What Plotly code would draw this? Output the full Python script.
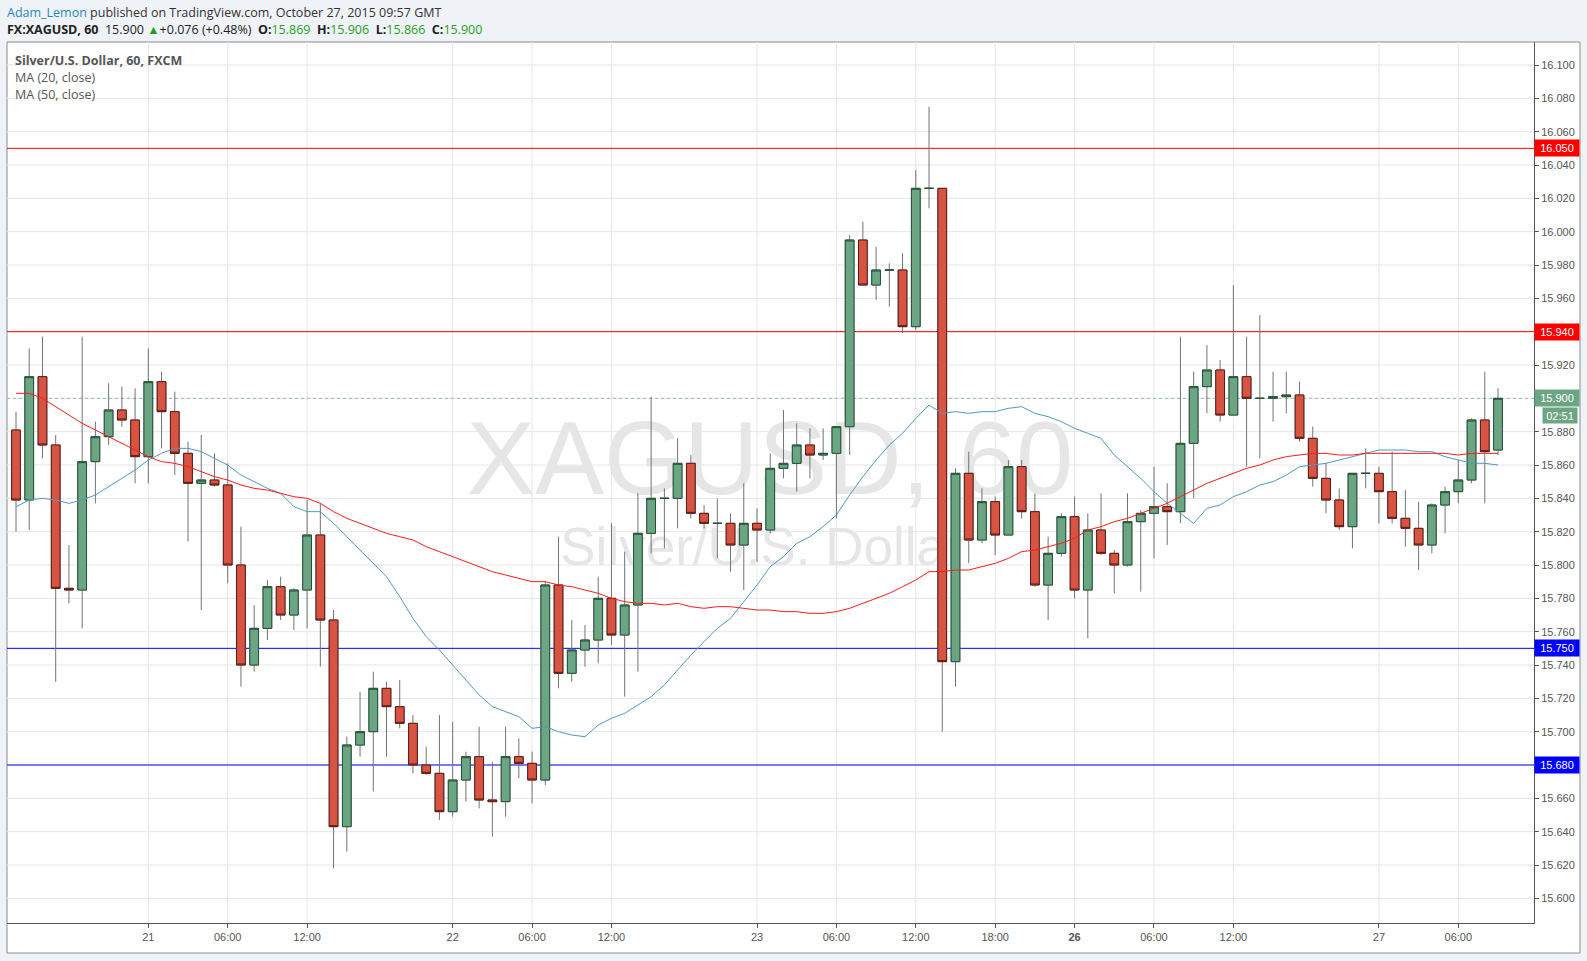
import plotly.graph_objects as go

# ---------------- data ----------------
open_ = [15.881, 15.839, 15.913, 15.872, 15.786, 15.785, 15.862, 15.877, 15.893, 15.887,
         15.865, 15.910, 15.892, 15.867, 15.849, 15.851, 15.848, 15.800, 15.740, 15.762,
         15.787, 15.770, 15.785, 15.818, 15.767, 15.643, 15.692, 15.700, 15.726, 15.715,
         15.705, 15.680, 15.675, 15.652, 15.671, 15.685, 15.659, 15.658, 15.685, 15.681,
         15.671, 15.788, 15.735, 15.749, 15.755, 15.780, 15.758, 15.776, 15.819, 15.840,
         15.840, 15.861, 15.831, 15.825, 15.825, 15.812, 15.825, 15.821, 15.858, 15.861,
         15.872, 15.866, 15.867, 15.883, 15.995, 15.968, 15.977, 15.977, 15.943, 16.026,
         16.026, 15.742, 15.855, 15.815, 15.838, 15.818, 15.859, 15.832, 15.788, 15.807,
         15.829, 15.785, 15.821, 15.807, 15.800, 15.826, 15.831, 15.835, 15.832, 15.873,
         15.907, 15.917, 15.890, 15.913, 15.900, 15.900, 15.901, 15.902, 15.876, 15.852,
         15.839, 15.823, 15.855, 15.855, 15.844, 15.828, 15.822, 15.812, 15.836, 15.844,
         15.851, 15.887, 15.869]
high = [15.892, 15.930, 15.937, 15.878, 15.812, 15.937, 15.886, 15.909, 15.907, 15.906,
        15.930, 15.916, 15.904, 15.874, 15.878, 15.867, 15.861, 15.823, 15.776, 15.791,
        15.793, 15.786, 15.839, 15.837, 15.773, 15.697, 15.724, 15.736, 15.730, 15.731,
        15.710, 15.691, 15.710, 15.706, 15.688, 15.703, 15.682, 15.703, 15.696, 15.688,
        15.790, 15.817, 15.767, 15.764, 15.793, 15.825, 15.808, 15.843, 15.901, 15.846,
        15.876, 15.866, 15.836, 15.840, 15.831, 15.849, 15.834, 15.867, 15.893, 15.885,
        15.882, 15.882, 15.883, 15.998, 16.006, 15.991, 15.981, 15.987, 16.037, 16.075,
        16.026, 15.858, 15.868, 15.846, 15.841, 15.863, 15.863, 15.843, 15.817, 15.831,
        15.841, 15.831, 15.843, 15.809, 15.843, 15.833, 15.859, 15.849, 15.937, 15.916,
        15.932, 15.923, 15.968, 15.937, 15.950, 15.916, 15.916, 15.910, 15.883, 15.861,
        15.846, 15.855, 15.870, 15.859, 15.868, 15.845, 15.838, 15.837, 15.847, 15.863,
        15.888, 15.916, 15.906]
low = [15.820, 15.821, 15.864, 15.730, 15.777, 15.762, 15.837, 15.872, 15.883, 15.849,
       15.849, 15.870, 15.854, 15.814, 15.773, 15.847, 15.789, 15.727, 15.736, 15.755,
       15.767, 15.761, 15.762, 15.739, 15.618, 15.628, 15.685, 15.664, 15.685, 15.702,
       15.675, 15.674, 15.647, 15.649, 15.658, 15.654, 15.637, 15.649, 15.672, 15.657,
       15.668, 15.726, 15.730, 15.739, 15.741, 15.752, 15.721, 15.736, 15.807, 15.810,
       15.822, 15.828, 15.822, 15.804, 15.796, 15.785, 15.802, 15.819, 15.852, 15.844,
       15.852, 15.863, 15.828, 15.866, 15.968, 15.959, 15.955, 15.939, 15.941, 16.014,
       15.700, 15.727, 15.801, 15.813, 15.806, 15.818, 15.828, 15.787, 15.767, 15.805,
       15.780, 15.756, 15.806, 15.783, 15.799, 15.784, 15.804, 15.812, 15.825, 15.840,
       15.891, 15.886, 15.890, 15.859, 15.864, 15.886, 15.891, 15.874, 15.847, 15.831,
       15.821, 15.810, 15.846, 15.825, 15.825, 15.811, 15.797, 15.807, 15.819, 15.837,
       15.849, 15.837, 15.866]
close = [15.839, 15.913, 15.872, 15.786, 15.785, 15.862, 15.877, 15.893, 15.887, 15.865,
         15.910, 15.892, 15.867, 15.849, 15.851, 15.848, 15.800, 15.740, 15.762, 15.787,
         15.770, 15.785, 15.818, 15.767, 15.643, 15.692, 15.700, 15.726, 15.715, 15.705,
         15.680, 15.675, 15.652, 15.671, 15.685, 15.659, 15.658, 15.685, 15.681, 15.671,
         15.788, 15.735, 15.749, 15.755, 15.780, 15.758, 15.776, 15.819, 15.840, 15.840,
         15.861, 15.831, 15.825, 15.825, 15.812, 15.825, 15.821, 15.858, 15.861, 15.872,
         15.866, 15.867, 15.883, 15.995, 15.968, 15.977, 15.977, 15.943, 16.026, 16.026,
         15.742, 15.855, 15.815, 15.838, 15.818, 15.859, 15.832, 15.788, 15.807, 15.829,
         15.785, 15.821, 15.807, 15.800, 15.826, 15.831, 15.835, 15.832, 15.873, 15.907,
         15.917, 15.890, 15.913, 15.900, 15.900, 15.901, 15.902, 15.876, 15.852, 15.839,
         15.823, 15.855, 15.855, 15.844, 15.828, 15.822, 15.812, 15.836, 15.844, 15.851,
         15.887, 15.868, 15.900]

ma20 = [15.835, 15.839, 15.840, 15.839, 15.837, 15.839, 15.842, 15.847, 15.852, 15.857,
        15.863, 15.867, 15.870, 15.870, 15.868, 15.864, 15.860, 15.854, 15.850, 15.846,
        15.843, 15.835, 15.832, 15.832, 15.825, 15.817, 15.809, 15.801, 15.793, 15.781,
        15.768, 15.757, 15.749, 15.740, 15.731, 15.722, 15.715, 15.712, 15.709, 15.702,
        15.703, 15.700, 15.698, 15.697, 15.704, 15.708, 15.711, 15.716, 15.721, 15.728,
        15.737, 15.746, 15.754, 15.762, 15.768, 15.778, 15.788, 15.799, 15.805, 15.813,
        15.817, 15.823, 15.830, 15.842, 15.853, 15.863, 15.872, 15.879, 15.888, 15.896,
        15.891, 15.892, 15.891, 15.892, 15.892, 15.894, 15.895, 15.891, 15.889, 15.886,
        15.882, 15.879, 15.876, 15.866, 15.859, 15.852, 15.844, 15.837, 15.831, 15.825,
        15.834, 15.836, 15.841, 15.844, 15.848, 15.850, 15.854, 15.859, 15.860, 15.861,
        15.863, 15.865, 15.867, 15.869, 15.869, 15.869, 15.868, 15.868, 15.865, 15.863,
        15.861, 15.861, 15.860]
ma50 = [15.903, 15.903, 15.900, 15.895, 15.890, 15.885, 15.881, 15.877, 15.873, 15.869,
        15.865, 15.862, 15.861, 15.859, 15.856, 15.853, 15.851, 15.848, 15.846, 15.845,
        15.843, 15.841, 15.840, 15.837, 15.832, 15.828, 15.825, 15.822, 15.819, 15.817,
        15.815, 15.811, 15.808, 15.805, 15.802, 15.799, 15.796, 15.794, 15.792, 15.790,
        15.790, 15.788, 15.787, 15.785, 15.783, 15.780, 15.778, 15.777, 15.777, 15.776,
        15.777, 15.775, 15.774, 15.775, 15.775, 15.774, 15.773, 15.773, 15.772, 15.772,
        15.771, 15.771, 15.772, 15.774, 15.777, 15.780, 15.783, 15.787, 15.791, 15.796,
        15.796, 15.797, 15.797, 15.799, 15.801, 15.804, 15.808, 15.809, 15.811, 15.813,
        15.816, 15.821, 15.823, 15.826, 15.828, 15.831, 15.834, 15.837, 15.841, 15.845,
        15.849, 15.852, 15.855, 15.858, 15.860, 15.863, 15.865, 15.866, 15.867, 15.867,
        15.866, 15.866, 15.867, 15.867, 15.867, 15.867, 15.867, 15.867, 15.867, 15.866,
        15.867, 15.867, 15.867]

# x-axis labels (bar index -> label); hourly bars from Oct 20 13:00 GMT
x_tick_index = [10, 16, 22, 33, 39, 45, 56, 62, 68, 74, 80, 86, 92, 103, 109]
x_tick_text = ["21", "06:00", "12:00", "22", "06:00", "12:00", "23", "06:00", "12:00",
               "18:00", "<b>26</b>", "06:00", "12:00", "27", "06:00"]
y_tick_values = [15.600, 15.620, 15.640, 15.660, 15.680, 15.700, 15.720, 15.740, 15.760,
                 15.780, 15.800, 15.820, 15.840, 15.860, 15.880, 15.900, 15.920, 15.940,
                 15.960, 15.980, 16.000, 16.020, 16.040, 16.060, 16.080, 16.100]

red_levels = [16.050, 15.940]
blue_levels = [15.750, 15.680]
last_price = 15.900
countdown = "02:51"

# ---------------- figure ----------------
W, H = 1587, 961
L, R, T, B = 7, 53, 42, 38
pw, ph = W - L - R, H - T - B


def px_x(px):
    return (px - L) / pw


def px_y(py):
    return (H - B - py) / ph


idx = list(range(len(close)))
up = [i for i in idx if close[i] >= open_[i]]
dn = [i for i in idx if close[i] < open_[i]]

GREEN_FILL, GREEN_LINE = "#6ba583", "#225437"
RED_FILL, RED_LINE = "#d75442", "#5b1a13"
WICK = "#737375"
GRID = "#e6e6e6"
AXIS_FONT = "Liberation Sans, Arial, sans-serif"
TXT = "#555555"

fig = go.Figure()

# wicks (full range, grey)
fig.add_trace(go.Candlestick(
    x=idx, open=open_, high=high, low=low, close=close,
    increasing=dict(line=dict(color=WICK, width=1), fillcolor=WICK),
    decreasing=dict(line=dict(color=WICK, width=1), fillcolor=WICK),
    whiskerwidth=0, hoverinfo="skip", showlegend=False))


def bodies(ids, fill, line):
    o = [open_[i] for i in ids]
    c = [close[i] for i in ids]
    return go.Candlestick(
        x=ids, open=o, close=c,
        high=[max(a, b) for a, b in zip(o, c)],
        low=[min(a, b) for a, b in zip(o, c)],
        increasing=dict(line=dict(color=line, width=1), fillcolor=fill),
        decreasing=dict(line=dict(color=line, width=1), fillcolor=fill),
        whiskerwidth=0, hoverinfo="skip", showlegend=False)


fig.add_trace(bodies(up, GREEN_FILL, GREEN_LINE))
fig.add_trace(bodies(dn, RED_FILL, RED_LINE))

fig.add_trace(go.Scatter(x=idx, y=ma20, mode="lines",
                         line=dict(color="#4f97c4", width=1), showlegend=False,
                         hoverinfo="skip"))
fig.add_trace(go.Scatter(x=idx, y=ma50, mode="lines",
                         line=dict(color="#ff1a1a", width=1), showlegend=False,
                         hoverinfo="skip"))

shapes = []
# white chart frame
shapes.append(dict(type="rect", xref="paper", yref="paper",
                   x0=0, x1=px_x(1580), y0=px_y(953), y1=1,
                   fillcolor="white", line=dict(color="#8c8c8c", width=1),
                   layer="below"))
# watermark
shapes.append(dict(type="rect", xref="paper", yref="paper",
                   x0=px_x(420), x1=px_x(1120), y0=px_y(492), y1=px_y(404),
                   line=dict(width=0), fillcolor="rgba(0,0,0,0)", layer="below",
                   label=dict(text="XAGUSD, 60", textposition="middle center",
                              font=dict(size=103, color="#e6e6e6",
                                        family=AXIS_FONT))))
shapes.append(dict(type="rect", xref="paper", yref="paper",
                   x0=px_x(512), x1=px_x(1012), y0=px_y(563), y1=px_y(519),
                   line=dict(width=0), fillcolor="rgba(0,0,0,0)", layer="below",
                   label=dict(text="Silver/U.S. Dollar", textposition="middle center",
                              font=dict(size=53, color="#e6e6e6",
                                        family=AXIS_FONT))))
# grid (drawn as shapes so the level lines can sit on top of it, under the candles)
for v in y_tick_values:
    shapes.append(dict(type="line", xref="paper", yref="y", x0=0, x1=1, y0=v, y1=v,
                       line=dict(color=GRID, width=1), layer="below"))
for v in x_tick_index:
    shapes.append(dict(type="line", xref="x", yref="paper", x0=v, x1=v, y0=0, y1=1,
                       line=dict(color=GRID, width=1), layer="below"))
for lv in red_levels:
    shapes.append(dict(type="line", xref="paper", yref="y", x0=0, x1=1, y0=lv, y1=lv,
                       line=dict(color="#ff0000", width=1), layer="below"))
for lv in blue_levels:
    shapes.append(dict(type="line", xref="paper", yref="y", x0=0, x1=1, y0=lv, y1=lv,
                       line=dict(color="#0000ff", width=1), layer="below"))
shapes.append(dict(type="line", xref="paper", yref="y", x0=0, x1=1,
                   y0=last_price, y1=last_price,
                   line=dict(color="#8fc0a2", width=1, dash="dot"), layer="below"))

annotations = []


def price_tag(value, color):
    annotations.append(dict(
        xref="paper", yref="y", x=1, y=value, xanchor="left", yanchor="middle",
        text=f"{value:.3f}", showarrow=False, bgcolor=color, width=42, height=14,
        borderpad=1, align="center",
        font=dict(family=AXIS_FONT, size=11, color="white")))


for lv in red_levels:
    price_tag(lv, "#ff0000")
for lv in blue_levels:
    price_tag(lv, "#0000ff")
price_tag(last_price, GREEN_FILL)
annotations.append(dict(
    xref="paper", yref="y", x=px_x(1578), y=last_price, yshift=-17,
    xanchor="right", yanchor="middle", text=countdown, showarrow=False,
    bgcolor=GREEN_FILL, width=32, height=13, borderpad=1, align="center",
    font=dict(family=AXIS_FONT, size=11, color="white")))

HEAD_FONT = "Open Sans, Noto Sans, sans-serif"
GRN = "#1fa31f"
annotations.append(dict(
    xref="paper", yref="paper", x=px_x(5), y=px_y(12), xanchor="left", yanchor="middle",
    showarrow=False, align="left",
    text="<span style='color:#1f87c9'>Adam_Lemon</span> published on TradingView.com, "
         "October 27, 2015 09:57 GMT",
    font=dict(family=HEAD_FONT, size=12.5, color="#333333")))
annotations.append(dict(
    xref="paper", yref="paper", x=px_x(5), y=px_y(29), xanchor="left", yanchor="middle",
    showarrow=False, align="left",
    text=(f"<b>FX:XAGUSD, 60</b>  15.900 <span style='color:{GRN}'>▲</span>+0.076 (+0.48%)  "
          f"<b>O:</b><span style='color:{GRN}'>15.869</span>  "
          f"<b>H:</b><span style='color:{GRN}'>15.906</span>  "
          f"<b>L:</b><span style='color:{GRN}'>15.866</span>  "
          f"<b>C:</b><span style='color:{GRN}'>15.900</span>"),
    font=dict(family=HEAD_FONT, size=12.5, color="#222222")))

legend_lines = ["<b>Silver/U.S. Dollar, 60, FXCM</b>", "MA (20, close)", "MA (50, close)"]
for k, t in enumerate(legend_lines):
    annotations.append(dict(
        xref="paper", yref="paper", x=px_x(13), y=px_y(61 + 16.5 * k),
        xanchor="left", yanchor="middle", showarrow=False, align="left", text=t,
        font=dict(family=HEAD_FONT, size=12.5, color=TXT)))

fig.update_layout(
    width=W, height=H,
    margin=dict(l=L, r=R, t=T, b=B, pad=0),
    paper_bgcolor="#eff2f6",
    plot_bgcolor="rgba(0,0,0,0)",
    boxgap=0.34, boxgroupgap=0,
    showlegend=False,
    shapes=shapes,
    annotations=annotations,
    xaxis=dict(
        range=[-0.68, 114.72], tickmode="array", tickvals=x_tick_index,
        ticktext=x_tick_text, showgrid=False,
        zeroline=False, showline=True, linecolor="#555555", linewidth=1,
        ticks="outside", ticklen=4, tickcolor="#555555",
        tickfont=dict(family=AXIS_FONT, size=11, color=TXT),
        rangeslider=dict(visible=False), fixedrange=True),
    yaxis=dict(
        side="right", range=[15.5852, 16.1138], tickmode="array",
        tickvals=y_tick_values, ticktext=[f"{v:.3f}" for v in y_tick_values],
        showgrid=False,
        zeroline=False, showline=True, linecolor="#555555", linewidth=1,
        ticks="outside", ticklen=4, tickcolor="#555555",
        tickfont=dict(family=AXIS_FONT, size=11, color=TXT), fixedrange=True),
)

fig.write_html("out.html",
               config={"displayModeBar": False},
               post_script="document.body.style.margin='0';"
                           "document.body.style.overflow='hidden';")
